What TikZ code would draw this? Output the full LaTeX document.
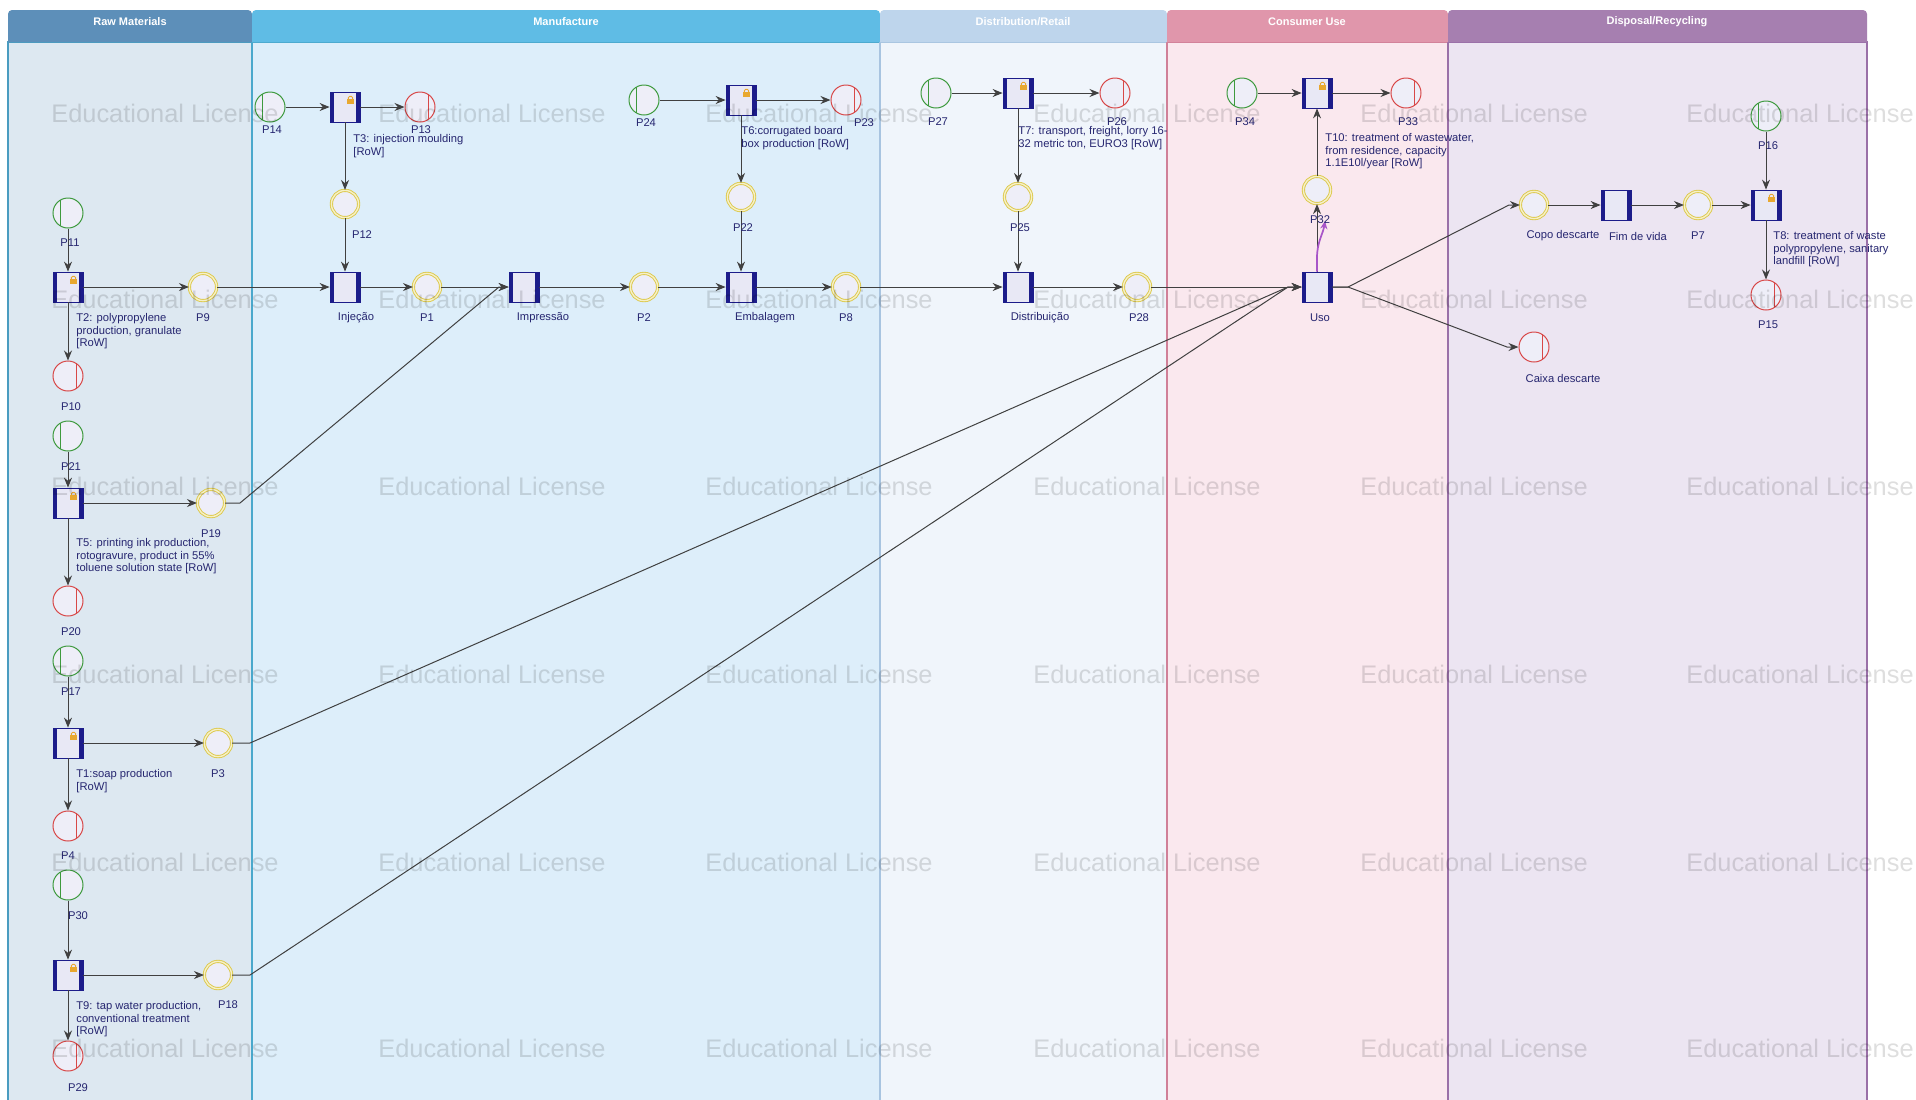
\documentclass[tikz,border=0pt]{standalone}
\usepackage{fontspec}
\setmainfont{Liberation Sans}
\usetikzlibrary{arrows.meta}
\definecolor{rawH}{HTML}{5D8FB9}
\definecolor{rawB}{HTML}{DDE8F1}
\definecolor{rawL}{HTML}{4A9CC0}
\definecolor{manH}{HTML}{5FBCE5}
\definecolor{manB}{HTML}{DDEEFA}
\definecolor{manL}{HTML}{4AA8CC}
\definecolor{disH}{HTML}{BED5EC}
\definecolor{disB}{HTML}{F0F5FB}
\definecolor{disL}{HTML}{A8C4E0}
\definecolor{conH}{HTML}{E096AB}
\definecolor{conB}{HTML}{FAE8EE}
\definecolor{conL}{HTML}{D08098}
\definecolor{dspH}{HTML}{A67FB0}
\definecolor{dspB}{HTML}{ECE5F2}
\definecolor{dspL}{HTML}{9A70A8}
\definecolor{navy}{HTML}{1C1C8A}
\definecolor{lbl}{HTML}{262670}
\definecolor{nfill}{HTML}{EEEEF8}
\definecolor{tfill}{HTML}{E8E8F5}
\definecolor{pgreen}{HTML}{3E9A3E}
\definecolor{pred}{HTML}{D84848}
\definecolor{pyel}{HTML}{DCC84A}
\definecolor{pyelL}{HTML}{F6F0C8}
\definecolor{lockc}{HTML}{E8A830}
\definecolor{purp}{HTML}{A855C8}
\tikzset{
  place/.style={circle, minimum size=15pt, inner sep=0pt, fill=nfill, line width=0.5pt},
  src/.style={place, draw=pgreen, path picture={\draw[pgreen, line width=0.5pt] ([xshift=-4pt]path picture bounding box.north) -- ([xshift=-4pt]path picture bounding box.south);}},
  snk/.style={place, draw=pred, path picture={\draw[pred, line width=0.5pt] ([xshift=4pt]path picture bounding box.north) -- ([xshift=4pt]path picture bounding box.south);}},
  mid/.style={place, minimum size=13.6pt, draw=pyel, line width=0.45pt, double=pyelL, double distance=0.7pt},
  trans/.style={rectangle, minimum size=15pt, inner sep=0pt, fill=tfill, draw=navy, line width=0.4pt,
    path picture={
      \fill[navy] (path picture bounding box.north west) rectangle ([xshift=2.1pt]path picture bounding box.south west);
      \fill[navy] (path picture bounding box.north east) rectangle ([xshift=-2.1pt]path picture bounding box.south east);}},
  ltrans/.style={trans,
    path picture={
      \fill[navy] (path picture bounding box.north west) rectangle ([xshift=2.1pt]path picture bounding box.south west);
      \fill[navy] (path picture bounding box.north east) rectangle ([xshift=-2.1pt]path picture bounding box.south east);
      \fill[lockc] ([shift={(0.9pt,1.3pt)}]path picture bounding box.center) rectangle ([shift={(4.6pt,3.9pt)}]path picture bounding box.center);
      \draw[lockc, line width=0.45pt, rounded corners=0.6pt] ([shift={(1.7pt,3.9pt)}]path picture bounding box.center) -- ([shift={(1.7pt,5.3pt)}]path picture bounding box.center) -- ([shift={(3.8pt,5.3pt)}]path picture bounding box.center) -- ([shift={(3.8pt,3.9pt)}]path picture bounding box.center);}},
  flow/.style={draw=black!75, line width=0.5pt, -{Stealth[length=5pt,width=4pt]}},
  lab/.style={font=\fontsize{5.6pt}{6.3pt}\selectfont, text=lbl, inner sep=0pt},
  mlab/.style={lab, align=left, anchor=north west},
  lanehdr/.style={font=\fontsize{5.5pt}{6pt}\selectfont\bfseries, text=white, inner sep=0pt},
  wm/.style={font=\fontsize{12.7pt}{14pt}\selectfont, text=black, text opacity=0.13, inner sep=0pt}
}
\begin{document}
\begin{tikzpicture}[x=0.5pt, y=-0.5pt]
\useasboundingbox[fill=white] (0,0) rectangle (1916,1099);
% ---- lanes
\filldraw[fill=rawB, draw=rawL, line width=0.6pt] (8,42) rectangle (252,1104);
\filldraw[fill=manB, draw=manL, line width=0.6pt] (252,42) rectangle (880,1104);
\filldraw[fill=disB, draw=disL, line width=0.6pt] (880,42) rectangle (1167,1104);
\filldraw[fill=conB, draw=conL, line width=0.6pt] (1167,42) rectangle (1448,1104);
\filldraw[fill=dspB, draw=dspL, line width=0.6pt] (1448,42) rectangle (1867,1104);
\fill[rawH, rounded corners=2pt] (8,42) -- (8,10) -- (252,10) -- (252,42);
\fill[manH, rounded corners=2pt] (252,42) -- (252,10) -- (880,10) -- (880,42);
\fill[disH, rounded corners=2pt] (880,42) -- (880,10) -- (1167,10) -- (1167,42);
\fill[conH, rounded corners=2pt] (1167,42) -- (1167,10) -- (1448,10) -- (1448,42);
\fill[dspH, rounded corners=2pt] (1448,42) -- (1448,10) -- (1867,10) -- (1867,42);
\node[lanehdr] (hRaw) at (130,22) {Raw Materials};
\node[lanehdr] (hMan) at (566,22) {Manufacture};
\node[lanehdr] (hDis) at (1023,22) {Distribution/Retail};
\node[lanehdr] (hCon) at (1307,22) {Consumer Use};
\node[lanehdr] (hDsp) at (1657,22) {Disposal/Recycling};
% ---- nodes: raw materials
\node[src] (P11) at (68,213) {};
\node[ltrans] (T2) at (68,287) {};
\node[snk] (P10) at (68,376) {};
\node[mid] (P9) at (203,287) {};
\node[src] (P21) at (68,436) {};
\node[ltrans] (T5) at (68,503) {};
\node[mid] (P19) at (211,503) {};
\node[snk] (P20) at (68,601) {};
\node[src] (P17) at (68,661) {};
\node[ltrans] (T1) at (68,743) {};
\node[mid] (P3) at (218,743) {};
\node[snk] (P4) at (68,826) {};
\node[src] (P30) at (68,885) {};
\node[ltrans] (T9) at (68,975) {};
\node[mid] (P18) at (218,975) {};
\node[snk] (P29) at (68,1056) {};
% ---- manufacture
\node[src] (P14) at (270,107) {};
\node[ltrans] (T3) at (345,107) {};
\node[snk] (P13) at (420,107) {};
\node[mid] (P12) at (345,204) {};
\node[trans] (Inj) at (345,287) {};
\node[mid] (P1) at (427,287) {};
\node[trans] (Imp) at (524,287) {};
\node[mid] (P2) at (644,287) {};
\node[src] (P24) at (644,100) {};
\node[ltrans] (T6) at (741,100) {};
\node[snk] (P23) at (846,100) {};
\node[mid] (P22) at (741,197) {};
\node[trans] (Emb) at (741,287) {};
\node[mid] (P8) at (846,287) {};
% ---- distribution
\node[src] (P27) at (936,93) {};
\node[ltrans] (T7) at (1018,93) {};
\node[snk] (P26) at (1115,93) {};
\node[mid] (P25) at (1018,197) {};
\node[trans] (Dist) at (1018,287) {};
\node[mid] (P28) at (1137,287) {};
% ---- consumer use
\node[src] (P34) at (1242,93) {};
\node[ltrans] (T10) at (1317,93) {};
\node[snk] (P33) at (1406,93) {};
\node[mid] (P32) at (1317,190) {};
\node[trans] (Uso) at (1317,287) {};
% ---- disposal
\node[mid] (Copo) at (1534,205) {};
\node[trans] (Fim) at (1616,205) {};
\node[mid] (P7) at (1698,205) {};
\node[ltrans] (T8) at (1766,205) {};
\node[src] (P16) at (1766,116) {};
\node[snk] (P15) at (1766,295) {};
\node[snk] (Caixa) at (1534,347) {};
% ---- bend points
\coordinate (b19) at (240,503);
\coordinate (j19) at (499,287);
\coordinate (b3) at (250,743);
\coordinate (b18) at (250,975);
\coordinate (jU) at (1288,287);
\coordinate (oU) at (1348,287);
\coordinate (jCopo) at (1509,205);
\coordinate (jCaixa) at (1507,347);
\coordinate (pe) at (1325,221);
% ---- connectors
\foreach \a/\b in {P11/T2,T2/P10,T2/P9,P9/Inj,P14/T3,T3/P13,T3/P12,P12/Inj,Inj/P1,P1/Imp,Imp/P2,P2/Emb,P24/T6,T6/P23,T6/P22,P22/Emb,Emb/P8,P8/Dist,P27/T7,T7/P26,T7/P25,P25/Dist,Dist/P28,P28/Uso,Uso/P32,P32/T10,P34/T10,T10/P33,Copo/Fim,Fim/P7,P7/T8,P16/T8,T8/P15,P21/T5,T5/P20,T5/P19,P17/T1,T1/P4,T1/P3,P30/T9,T9/P29,T9/P18}
  \draw[flow] (\a) -- (\b);
\draw[flow] (P19) -- (b19) -- (j19) -- (Imp);
\draw[flow] (P3) -- (b3) -- (jU) -- (Uso);
\draw[flow] (P18) -- (b18) -- (jU) -- (Uso);
\draw[flow] (Uso) -- (oU) -- (jCopo) -- (Copo);
\draw[flow] (Uso) -- (oU) -- (jCaixa) -- (Caixa);
\draw[purp, line width=0.85pt, -{Stealth[length=4pt,width=3.6pt]}] (Uso.north) -- ++(0,-14) .. controls (1317,242) and (1323,234) .. (pe);
% ---- place labels
\node[lab] (lP11) at (70,243) {P11};
\node[lab] (lP10) at (71,407) {P10};
\node[lab] (lP9) at (203,318) {P9};
\node[lab] (lP21) at (71,467) {P21};
\node[lab] (lP19) at (211,534) {P19};
\node[lab] (lP20) at (71,632) {P20};
\node[lab] (lP17) at (71,692) {P17};
\node[lab] (lP3) at (218,774) {P3};
\node[lab] (lP4) at (68,856) {P4};
\node[lab] (lP30) at (78,916) {P30};
\node[lab] (lP18) at (228,1005) {P18};
\node[lab] (lP29) at (78,1088) {P29};
\node[lab] (lP14) at (272,130) {P14};
\node[lab] (lP13) at (421,130) {P13};
\node[lab] (lP12) at (362,235) {P12};
\node[lab] (lP1) at (427,318) {P1};
\node[lab] (lP2) at (644,318) {P2};
\node[lab] (lP24) at (646,123) {P24};
\node[lab] (lP23) at (864,123) {P23};
\node[lab] (lP22) at (743,228) {P22};
\node[lab] (lP8) at (846,318) {P8};
\node[lab] (lP27) at (938,122) {P27};
\node[lab] (lP26) at (1117,122) {P26};
\node[lab] (lP25) at (1020,228) {P25};
\node[lab] (lP28) at (1139,318) {P28};
\node[lab] (lP34) at (1245,122) {P34};
\node[lab] (lP33) at (1408,122) {P33};
\node[lab] (lP32) at (1320,220) {P32};
\node[lab] (lP16) at (1768,146) {P16};
\node[lab] (lP15) at (1768,325) {P15};
\node[lab] (lP7) at (1698,236) {P7};
\node[lab] (lCopo) at (1563,236) {Copo descarte};
\node[lab] (lCaixa) at (1563,378) {Caixa descarte};
% ---- transition labels
\node[lab] (lInj) at (356,318) {Injeção};
\node[lab] (lImp) at (543,318) {Impressão};
\node[lab] (lEmb) at (765,318) {Embalagem};
\node[lab] (lDist) at (1040,318) {Distribuição};
\node[lab] (lUso) at (1320,318) {Uso};
\node[lab] (lFim) at (1638,236) {Fim de vida};
\node[mlab] (lT2) at (76,313) {T2: polypropylene\\production, granulate\\{[RoW]}};
\node[mlab] (lT3) at (353,134) {T3: injection moulding\\{[RoW]}};
\node[mlab] (lT6) at (741,126) {T6:corrugated board\\box production [RoW]};
\node[mlab] (lT7) at (1018,126) {T7: transport, freight, lorry 16-\\32 metric ton, EURO3 [RoW]};
\node[mlab] (lT10) at (1325,133) {T10: treatment of wastewater,\\from residence, capacity\\1.1E10l/year [RoW]};
\node[mlab] (lT5) at (76,538) {T5: printing ink production,\\rotogravure, product in 55\%\\toluene solution state [RoW]};
\node[mlab] (lT1) at (76,769) {T1:soap production\\{[RoW]}};
\node[mlab] (lT9) at (76,1001) {T9: tap water production,\\conventional treatment\\{[RoW]}};
\node[mlab] (lT8) at (1773,231) {T8: treatment of waste\\polypropylene, sanitary\\landfill [RoW]};
% ---- watermarks
\foreach \x in {165,492,819,1147,1474,1800}
  \foreach \y in {113,299,486,674,862,1048}
    \node[wm] (wm-\x-\y) at (\x,\y) {Educational License};
\end{tikzpicture}
\end{document}
